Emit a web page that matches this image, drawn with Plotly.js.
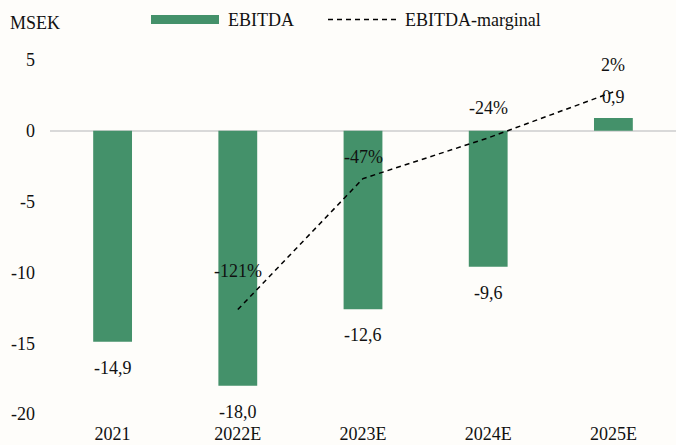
<!DOCTYPE html>
<html>
<head>
<meta charset="utf-8">
<script src="https://cdn.plot.ly/plotly-3.0.1.min.js"></script>
<style>html,body{margin:0;padding:0;background:#fefdfa;}</style>
</head>
<body>
<div id="chart" style="width:676px;height:445px;"></div>
<script>
// Data
const categories = ["2021", "2022E", "2023E", "2024E", "2025E"];
const ebitda = [-14.9, -18.0, -12.6, -9.6, 0.9];
const ebitdaLabels = ["-14,9", "-18,0", "-12,6", "-9,6", "0,9"];
const marginCategories = ["2022E", "2023E", "2024E", "2025E"];
const margin = [-121, -47, -24, 2];
const marginLabels = ["-121%", "-47%", "-24%", "2%"];
const yTickVals = [-20, -15, -10, -5, 0, 5];

// Styles
const green = "#44916a";
const fontFam = "'Liberation Serif', 'Times New Roman', serif";
const txtColor = "#111111";
const marginLabelShift = [39, 22, 30, 27];

const annotations = [];
ebitda.forEach((v, i) => {
  annotations.push({
    x: i, y: v, xref: "x", yref: "y",
    text: ebitdaLabels[i], showarrow: false,
    yanchor: "middle", yshift: v < 0 ? -26 : 21,
    font: {family: fontFam, size: 18, color: txtColor}
  });
});
margin.forEach((v, i) => {
  annotations.push({
    x: categories.indexOf(marginCategories[i]), y: v, xref: "x", yref: "y2",
    text: marginLabels[i], showarrow: false,
    yanchor: "middle", yshift: marginLabelShift[i],
    font: {family: fontFam, size: 18, color: txtColor}
  });
});

const data = [
  {
    type: "bar", x: categories, y: ebitda, name: "EBITDA",
    marker: {color: green}, width: 0.31, showlegend: false, hoverinfo: "skip"
  },
  {
    type: "scatter", mode: "lines", x: marginCategories, y: margin, yaxis: "y2",
    name: "EBITDA-marginal", line: {color: "#000000", width: 1.5, dash: "5px,4px"},
    showlegend: false, hoverinfo: "skip"
  }
];

const layout = {
  width: 676, height: 445,
  margin: {l: 50, r: 0, t: 60, b: 31, pad: 0},
  paper_bgcolor: "#fefdfa", plot_bgcolor: "#fefdfa",
  font: {family: fontFam, size: 18, color: txtColor},
  showlegend: false,
  xaxis: {
    type: "category", categoryorder: "array", categoryarray: categories,
    range: [-0.5, categories.length - 0.5], autorange: false,
    showgrid: false, zeroline: false, showline: false, ticks: "",
    ticklabelstandoff: 7,
    tickfont: {family: fontFam, size: 18, color: txtColor}
  },
  yaxis: {
    range: [-20, 5], autorange: false, tickvals: yTickVals, ticktext: yTickVals.map(String),
    showgrid: false, zeroline: true, zerolinecolor: "#d9d9d9", zerolinewidth: 1.5,
    showline: false, ticks: "", ticklabelstandoff: 14,
    tickfont: {family: fontFam, size: 18, color: txtColor}
  },
  yaxis2: {
    overlaying: "y", side: "right", range: [-180, 20], autorange: false, visible: false,
    showgrid: false, zeroline: false
  },
  annotations: annotations,
  shapes: []
};

// Axis unit label
layout.annotations.push({
  xref: "paper", yref: "paper", x: (8 - 50) / 626, y: (414 - 23) / 354,
  xanchor: "left", yanchor: "middle", text: "MSEK", showarrow: false,
  font: {family: fontFam, size: 18, color: txtColor}
});
// Custom legend (wide swatch like the reference)
layout.shapes.push({
  type: "rect", xref: "paper", yref: "paper",
  x0: (151 - 50) / 626, x1: (219 - 50) / 626,
  y0: (414 - 24) / 354, y1: (414 - 15) / 354,
  fillcolor: green, line: {width: 0}
});
layout.shapes.push({
  type: "line", xref: "paper", yref: "paper",
  x0: (328 - 50) / 626, x1: (397 - 50) / 626,
  y0: (414 - 19.5) / 354, y1: (414 - 19.5) / 354,
  line: {color: "#000000", width: 1.5, dash: "5px,4px"}
});
layout.annotations.push({
  xref: "paper", yref: "paper", x: (226 - 50) / 626, y: (414 - 20) / 354,
  xanchor: "left", yanchor: "middle", text: "EBITDA", showarrow: false,
  font: {family: fontFam, size: 18, color: txtColor}
});
layout.annotations.push({
  xref: "paper", yref: "paper", x: (403 - 50) / 626, y: (414 - 20) / 354,
  xanchor: "left", yanchor: "middle", text: "EBITDA-marginal", showarrow: false,
  font: {family: fontFam, size: 18, color: txtColor}
});

Plotly.newPlot("chart", data, layout, {staticPlot: true, displayModeBar: false});
</script>
</body>
</html>
